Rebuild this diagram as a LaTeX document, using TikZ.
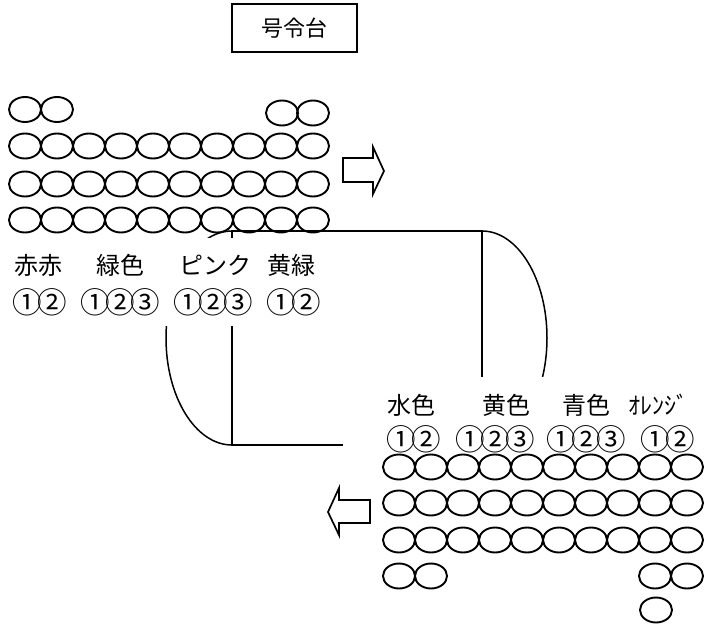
\documentclass[tikz,border=0pt]{standalone}
\usepackage{fontspec}
\newfontfamily\jp{Noto Sans CJK JP}
\newcommand\cnum[1]{\makebox[25.3pt]{\fontsize{29.5}{29.5}\selectfont #1}}
\begin{document}
\begin{tikzpicture}[x=1pt,y=-1pt,
  ov/.style={line width=1.9pt},
  ln/.style={line width=1.5pt},
  arrowshape/.style={line width=1.7pt, line join=miter},
  lbl/.style={font=\jp\fontsize{24}{24}\selectfont, inner sep=0pt, anchor=west},
  cover/.style={fill=white, draw=none}]
\useasboundingbox (0,0) rectangle (704,624);

% command box
\node[draw, line width=1.7pt, minimum width=125pt, minimum height=48pt, inner sep=0pt,
      font=\jp\fontsize{22}{22}\selectfont] (gorei) at (294.5,28) {号令台};

% top block of circles
\foreach \x in {25,57} \draw[ov] (\x,109.5) ellipse[x radius=16, y radius=12.5];
\foreach \x in {282,313} \draw[ov] (\x,113) ellipse[x radius=16, y radius=12.5];
\foreach \y in {146,184,220}
  \foreach \i in {0,...,9}
    \draw[ov] ({25+32*\i},\y) ellipse[x radius=16, y radius=12.5];

% right arrow
\draw[arrowshape] (343,158) -- (373,158) -- (373,147) -- (384,171) -- (373,194) -- (373,182) -- (343,182) -- cycle;

% field
\coordinate (fTL) at (232,231);
\coordinate (fTR) at (482,231);
\coordinate (fBL) at (232,445);
\coordinate (fBR) at (482,445);
\draw[ln] (fTL) -- (fTR) -- (fBR) -- (fBL) -- cycle;
\draw[ln] (fTL) arc[start angle=270, end angle=90, x radius=66, y radius=107];
\draw[ln] (fTR) arc[start angle=-90, end angle=90, x radius=65, y radius=107];

% white label backgrounds
\fill[cover] (0,238) rectangle (340,326);
\fill[cover] (343,377) rectangle (704,452);

% top labels
\node[lbl] (aka) at (14,265) {赤赤};
\node[lbl] (midori) at (96,265) {緑色};
\node[lbl] (pink) at (179,265) {ピンク};
\node[lbl] (kimidori) at (267,265) {黄緑};
\node[lbl] (akaN) at (14,302) {\cnum{①}\cnum{②}};
\node[lbl] (midoriN) at (82,302) {\cnum{①}\cnum{②}\cnum{③}};
\node[lbl] (pinkN) at (175,302) {\cnum{①}\cnum{②}\cnum{③}};
\node[lbl] (kimidoriN) at (268,302) {\cnum{①}\cnum{②}};

% bottom labels
\node[lbl] (mizu) at (387,405) {水色};
\node[lbl] (ki) at (482,405) {黄色};
\node[lbl] (ao) at (562,405) {青色};
\node[lbl] (orange) at (628,405) {ｵﾚﾝｼﾞ};
\node[lbl] (mizuN) at (388,439) {\cnum{①}\cnum{②}};
\node[lbl] (kiN) at (457,439) {\cnum{①}\cnum{②}\cnum{③}};
\node[lbl] (aoN) at (548,439) {\cnum{①}\cnum{②}\cnum{③}};
\node[lbl] (orangeN) at (642,439) {\cnum{①}\cnum{②}};

% bottom block of circles
\foreach \y in {467,503,540}
  \foreach \i in {0,...,9}
    \draw[ov] ({399+32*\i},\y) ellipse[x radius=16, y radius=12.5];
\foreach \x in {399,431,655,687} \draw[ov] (\x,576) ellipse[x radius=16, y radius=12.5];
\draw[ov] (656,610) ellipse[x radius=16, y radius=12.5];

% left arrow
\draw[arrowshape] (370,500) -- (339,500) -- (339,488) -- (328,512) -- (339,535) -- (339,523) -- (370,523) -- cycle;
\end{tikzpicture}
\end{document}
